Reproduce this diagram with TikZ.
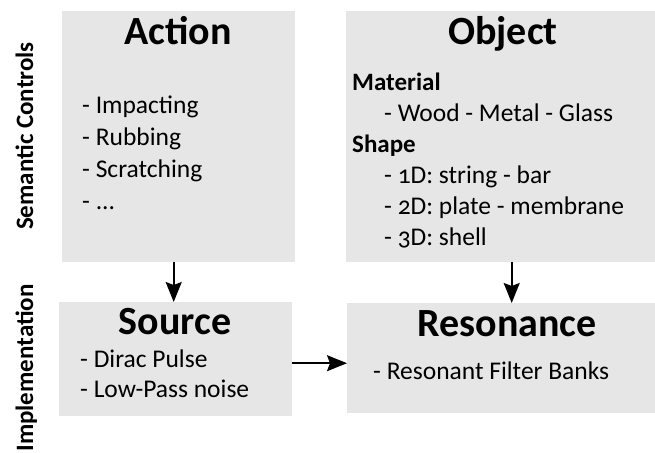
\documentclass[tikz,border=0pt]{standalone}
\usepackage{fontspec}
\setmainfont{Carlito}[Numbers=OldStyle]
\usetikzlibrary{arrows.meta}
\begin{document}
\begin{tikzpicture}[x=1pt,y=-1pt,
  box/.style={fill=boxgray, draw=none, inner sep=0pt, anchor=north west},
  title/.style={font=\fontsize{40}{44}\selectfont\bfseries, anchor=base, inner sep=0pt},
  item/.style={font=\fontsize{25.5}{30}\selectfont, anchor=base west, inner sep=0pt},
  head/.style={font=\fontsize{25}{30}\selectfont\bfseries, anchor=base west, inner sep=0pt},
  side/.style={font=\fontsize{25}{28}\selectfont\bfseries, rotate=90, anchor=base, inner sep=0pt},
  arr/.style={line width=1.6pt, -{Stealth[length=20pt,width=16pt,inset=3pt]}}]
\definecolor{boxgray}{HTML}{E6E6E6}
\useasboundingbox (0,0) rectangle (655,452);
% boxes
\node[box, minimum width=233pt, minimum height=251pt] (Action) at (62,11) {};
\node[box, minimum width=309pt, minimum height=251pt] (Object) at (346,11) {};
\node[box, minimum width=233pt, minimum height=114pt] (Source) at (59,302) {};
\node[box, minimum width=308pt, minimum height=110pt] (Resonance) at (347,303) {};
% side labels
\node[side] (lsem) at (33,136) {Semantic Controls};
\node[side] (limp) at (33,368) {Implementation};
% Action
\node[title] (tAction) at (178,45) {Action};
\node[item] (a1) at (82,113) {- Impacting};
\node[item] (a2) at (82,145) {- Rubbing};
\node[item] (a3) at (82,177) {- Scratching};
\node[item] (a4) at (82,209) {- ...};
% Object
\node[title] (tObject) at (503,45) {Object};
\node[head] (o1) at (352,90) {Material};
\node[item] (o2) at (384,121) {- Wood - Metal - Glass};
\node[head] (o3) at (352,152) {Shape};
\node[item] (o4) at (384,183) {- 1D: string - bar};
\node[item] (o5) at (384,214) {- 2D: plate - membrane};
\node[item] (o6) at (384,245) {- 3D: shell};
% Source
\node[title] (tSource) at (175,334) {Source};
\node[item] (s1) at (80,367) {- Dirac Pulse};
\node[item] (s2) at (80,397) {- Low-Pass noise};
% Resonance
\node[title] (tResonance) at (507,336) {Resonance};
\node[item] (r1) at (373,379) {- Resonant Filter Banks};
% arrows
\draw[arr] ([xshift=-5pt]Action.south) -- ([xshift=-5pt]Action.south |- Source.north);
\draw[arr] ([xshift=11pt]Object.south) -- ([xshift=11pt]Object.south |- Resonance.north);
\draw[arr] ([yshift=-4pt]Source.east) -- ([yshift=-4pt]Source.east -| Resonance.west);
\end{tikzpicture}
\end{document}
